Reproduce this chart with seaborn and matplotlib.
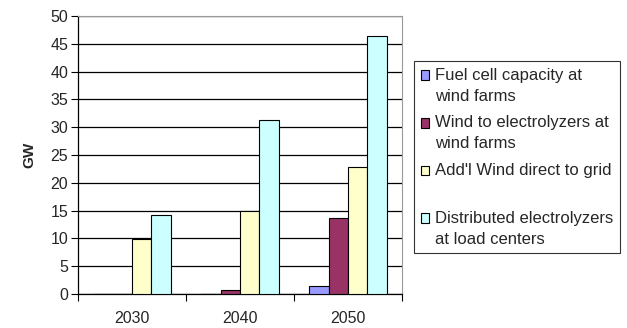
import pandas as pd
import matplotlib
matplotlib.use("Agg")
import matplotlib.pyplot as plt
from matplotlib.patches import Patch, Rectangle
from matplotlib.legend_handler import HandlerPatch
import seaborn as sns

# данные
years = ["2030", "2040", "2050"]
series = [
    "Fuel cell capacity at\nwind farms",
    "Wind to electrolyzers at\nwind farms",
    "Add'l Wind direct to grid\n ",
    "Distributed electrolyzers\nat load centers",
]
fuel_cell = [0, 0, 1.4]
wind_electrolyzers = [0, 0.8, 13.6]
wind_grid = [9.9, 14.9, 22.9]
distributed = [14.2, 31.3, 46.4]
colors = ["#9999FF", "#993366", "#FFFFCC", "#CCFFFF"]

df = pd.DataFrame({
    "year": years * 4,
    "series": [s for s in series for _ in years],
    "GW": fuel_cell + wind_electrolyzers + wind_grid + distributed,
})

sns.set_style("white")
plt.rcParams["font.family"] = ["Liberation Sans", "DejaVu Sans"]

fig = plt.figure(figsize=(6.27, 3.28), dpi=100)
ax = fig.add_axes([78 / 627, 1 - 294 / 328, (402 - 78) / 627, (294 - 16) / 328])

sns.barplot(data=df, x="year", y="GW", hue="series", palette=colors,
            width=0.72, edgecolor="black", linewidth=0.8, saturation=1,
            ax=ax, zorder=3, legend=False)

ax.set_ylim(0, 50)
ax.set_yticks(range(0, 51, 5))
ax.set_xlim(-0.5, 2.5)
ax.grid(axis="y", color="black", linewidth=0.9, zorder=0)
ax.set_axisbelow(True)

# тики на границах категорий
ax.set_xticks([-0.5, 0.5, 1.5, 2.5], minor=False)
ax.set_xticklabels([])
ax.set_xticks([0, 1, 2], minor=True)
ax.set_xticklabels(years, minor=True, fontsize=11.5)
ax.tick_params(axis="x", which="major", direction="out", length=5, width=0.8, color="black", bottom=True)
ax.tick_params(axis="x", which="minor", length=0, pad=12)
ax.tick_params(axis="y", direction="out", length=5, width=0.8, color="black", left=True, labelsize=11.5, pad=2)

ax.set_xlabel("")
ax.set_ylabel("GW", fontsize=11, fontweight="bold", labelpad=10)

for side in ["left", "bottom"]:
    ax.spines[side].set_color("black")
    ax.spines[side].set_linewidth(0.9)
for side in ["top", "right"]:
    ax.spines[side].set_color("#999999")
    ax.spines[side].set_linewidth(0.8)


# квадратик легенды на уровне первой строки
def top_rect(legend, orig_handle, xdescent, ydescent, width, height, fontsize):
    return Rectangle((-xdescent, -ydescent + 7.6), width, height)


handles = [Patch(facecolor=c, edgecolor="black", linewidth=0.8) for c in colors]
leg = ax.legend(handles, series, loc="upper left",
                bbox_to_anchor=(414 / 627, 1 - 61 / 328),
                bbox_transform=fig.transFigure, frameon=True, fancybox=False,
                edgecolor="black", fontsize=12, handlelength=0.5, handleheight=0.5,
                handletextpad=0.35, labelspacing=0.7, borderpad=0.4,
                borderaxespad=0, handler_map={Patch: HandlerPatch(patch_func=top_rect)})
leg.get_frame().set_linewidth(0.8)
for t in leg.get_texts():
    t.set_linespacing(1.5)

fig.savefig("out.png", dpi=100)
